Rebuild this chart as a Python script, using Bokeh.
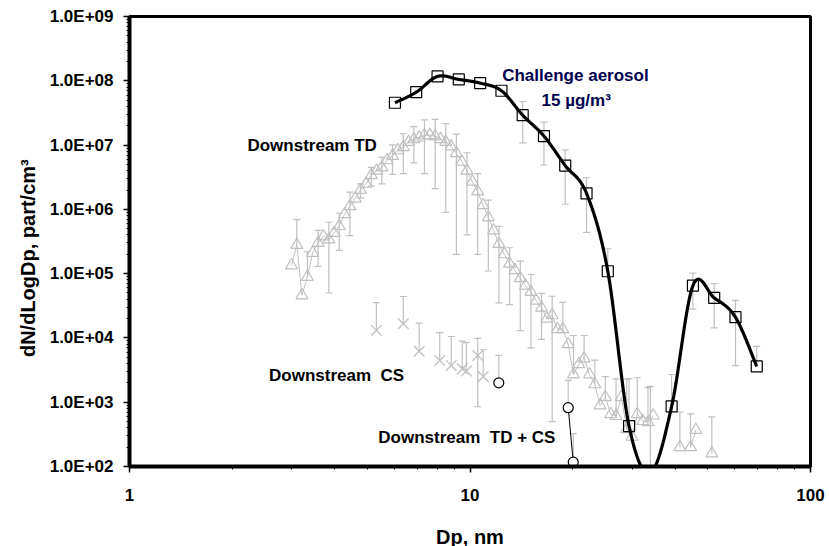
import math

from bokeh.core.properties import value
from bokeh.embed import file_html
from bokeh.models import ColumnDataSource, CustomJSTickFormatter, FixedTicker, TeeHead, Whisker
from bokeh.plotting import figure
from bokeh.resources import INLINE

nan = float("nan")

# Challenge aerosol (16 channels per decade), mean and standard deviation
challenge_dp = [6.02, 6.95, 8.03, 9.27, 10.71, 12.37, 14.28, 16.49, 19.04, 21.99,
                25.39, 29.32, 33.86, 39.10, 45.15, 52.14, 60.21, 69.53]
challenge_dn = [4.55e7, 6.65e7, 1.17e8, 1.05e8, 9.2e7, 7.0e7, 2.92e7, 1.38e7, 4.8e6, 1.77e6,
                1.09e5, 425, 80, 860, 6.5e4, 4.2e4, 2.1e4, 3.6e3]
challenge_sd = [0, 0, 0, 0, 0, 0, 1.84e7, 8.9e6, 3.6e6, 1.33e6,
                1.35e5, 1.9e3, 1.68e3, 1.84e3, 3.7e4, 2.77e4, 1.73e4, 3.8e3]

# Downstream of the thermodenuder (64 channels per decade)
td_dp = [2.99, 3.10, 3.21, 3.33, 3.45, 3.58, 3.71, 3.85, 3.99, 4.13,
         4.28, 4.44, 4.60, 4.77, 4.95, 5.13, 5.32, 5.51, 5.71, 5.92,
         6.14, 6.37, 6.60, 6.84, 7.09, 7.35, 7.62, 7.90, 8.19, 8.49,
         8.80, 9.12, 9.46, 9.80, 10.16, 10.53, 10.92, 11.32, 11.73, 12.16,
         12.61, 13.07, 13.55, 14.05, 14.56, 15.10, 15.65, 16.22, 16.82, 17.43,
         18.07, 18.73, 19.42, 20.13, 20.87, 21.63, 22.43, 23.25, 24.10, 24.98,
         25.90, 26.85, 27.83, 28.85, 29.91, 31.00, 32.14, 33.32, 34.54, 35.80,
         37.11, 38.47, 39.88, 41.35, 42.86, 44.43, 46.06, 47.75, 49.50, 51.31]
td_dn = [1.34e5, 2.8e5, 4.6e4, 8.9e4, 2.1e5, 3.0e5, 3.8e5, 3.4e5, 4.3e5, 5.5e5,
         8.4e5, 1.12e6, 1.47e6, 2.0e6, 2.5e6, 3.4e6, 4.0e6, 4.5e6, 5.8e6, 6.8e6,
         8.3e6, 9.3e6, 1.12e7, 1.23e7, 1.31e7, 1.41e7, 1.43e7, 1.36e7, 1.24e7, 1.12e7,
         9.5e6, 7.5e6, 5.5e6, 4.0e6, 2.7e6, 1.9e6, 1.16e6, 7.5e5, 4.7e5, 2.9e5,
         2.0e5, 1.43e5, 1.13e5, 8.5e4, 6.5e4, 5.2e4, 3.8e4, 2.95e4, 2.0e4, 2.25e4,
         1.37e4, 1.37e4, 8.0e3, 2.7e3, 3.9e3, 4.8e3, 2.7e3, 1.9e3, 890, 1.2e3,
         650, 610, 1.2e3, 380, 290, 650, 510, 490, 620, nan,
         nan, nan, nan, 200, nan, 200, 370, nan, nan, 160]
td_sd = [0, 4.1e5, 0, 1.3e5, 0, 1.7e5, 0, 2.9e5, 0, 3.2e5,
         0, 7.3e5, 0, 5.0e5, 0, 1.1e6, 0, 2.0e6, 0, 3.3e6,
         0, 5.7e6, 0, 7.0e6, 0, 1.05e7, 0, 1.15e7, 0, 1.03e7,
         0, 7.3e6, 0, 3.6e6, 0, 1.7e6, 0, 6.4e5, 0, 2.55e5,
         0, 1.1e5, 0, 7.2e4, 0, 4.5e4, 0, 2.0e4, 0, 2.2e4,
         0, 2.2e4, 0, 8.2e3, 0, 6.1e3, 0, 2.6e3, 0, 1.3e3,
         0, 1.7e3, 0, 1.9e3, 0, 1.75e3, 0, 1.2e3, 0, 0,
         0, 0, 0, 500, 0, 460, 0, 0, 0, 430]

# Downstream of the catalytic stripper
cs_dp = [5.31, 6.37, 7.09, 8.15, 8.81, 9.49, 9.76, 10.54, 10.93]
cs_dn = [1.31e4, 1.66e4, 6.2e3, 4.47e3, 3.73e3, 3.3e3, 3.05e3, 5.35e3, 2.5e3]
cs_sd = [2.24e4, 2.75e4, 1.08e4, 7.6e3, 6.8e3, 5.6e3, 5.4e3, 4.5e3, 4.05e3]

# Downstream of thermodenuder followed by catalytic stripper
tdcs_dp = [12.15, 19.43, 20.10]
tdcs_dn = [2.0e3, 822, 117]
tdcs_sd = [3.35e3, 1.36e3, 207]

x_ticks = [1, 10, 100]
y_ticks = [1e2, 1e3, 1e4, 1e5, 1e6, 1e7, 1e8, 1e9]

GREY = "#c0c0c0"
FONT = "Liberation Sans"


def smooth_curve(xs, ys, steps=30):
    """Bezier smoothing through every point, done in log-log space."""
    lx = [math.log10(v) for v in xs]
    ly = [math.log10(v) for v in ys]
    n = len(lx)
    out_x, out_y = [], []
    for i in range(n - 1):
        a, b = max(i - 1, 0), min(i + 2, n - 1)
        p1 = (lx[i], ly[i])
        p2 = (lx[i + 1], ly[i + 1])
        c1 = (p1[0] + (p2[0] - lx[a]) / 6, p1[1] + (p2[1] - ly[a]) / 6)
        c2 = (p2[0] - (lx[b] - p1[0]) / 6, p2[1] - (ly[b] - p1[1]) / 6)
        last = steps + 1 if i == n - 2 else steps
        for k in range(last):
            t = k / steps
            u = 1 - t
            bx = u**3 * p1[0] + 3 * u * u * t * c1[0] + 3 * u * t * t * c2[0] + t**3 * p2[0]
            by = u**3 * p1[1] + 3 * u * u * t * c1[1] + 3 * u * t * t * c2[1] + t**3 * p2[1]
            out_x.append(10 ** bx)
            out_y.append(10 ** by)
    return out_x, out_y


def add_error_bars(p, xs, ys, sds):
    up = dict(x=[], lo=[], hi=[])
    down = dict(x=[], lo=[], hi=[])
    for x, y, e in zip(xs, ys, sds):
        if not e or math.isnan(y):
            continue
        up["x"].append(x)
        up["lo"].append(y)
        up["hi"].append(y + e)
        if y - e > 0:
            down["x"].append(x)
            down["lo"].append(y - e)
            down["hi"].append(y)
    w_up = Whisker(source=ColumnDataSource(up), base="x", lower="lo", upper="hi",
                   dimension="height", line_color=GREY, line_width=1.2,
                   upper_head=TeeHead(size=7, line_color=GREY, line_width=1.2),
                   lower_head=None, level="underlay")
    w_dn = Whisker(source=ColumnDataSource(down), base="x", lower="lo", upper="hi",
                   dimension="height", line_color=GREY, line_width=1.2,
                   lower_head=TeeHead(size=7, line_color=GREY, line_width=1.2),
                   upper_head=None, level="underlay")
    p.add_layout(w_up)
    p.add_layout(w_dn)


p = figure(
    frame_width=681, frame_height=450,
    min_border_left=129, min_border_right=19, min_border_top=16, min_border_bottom=80,
    x_axis_type="log", y_axis_type="log",
    x_range=(1, 100), y_range=(1e2, 1e9),
    output_backend="svg", toolbar_location=None,
    background_fill_color="white", border_fill_color="white",
)
p.xgrid.grid_line_color = None
p.ygrid.grid_line_color = None
p.outline_line_color = "black"
p.outline_line_width = 3

x_minor = [m * d for d in (1, 10) for m in range(2, 10)]
y_minor = [m * d for d in y_ticks[:-1] for m in range(2, 10)]
p.xaxis.ticker = FixedTicker(ticks=x_ticks, minor_ticks=x_minor)
p.yaxis.ticker = FixedTicker(ticks=y_ticks, minor_ticks=y_minor)
p.xaxis.formatter = CustomJSTickFormatter(code="return String(Math.round(tick));")
p.yaxis.formatter = CustomJSTickFormatter(code="""
    const e = Math.round(Math.log10(tick));
    return "1.0E+" + (e < 10 ? "0" : "") + e;
""")

for ax in (p.xaxis, p.yaxis):
    ax.axis_line_width = 4
    ax.axis_line_color = "black"
    ax.major_tick_in = 0
    ax.major_tick_out = 6
    ax.major_tick_line_width = 1.5
    ax.minor_tick_in = 0
    ax.minor_tick_out = 3
    ax.minor_tick_line_width = 1
    ax.major_label_text_font = FONT
    ax.major_label_text_font_style = "bold"
    ax.major_label_text_font_size = "17px"
    ax.major_label_text_color = "black"
    ax.axis_label_text_font = FONT
    ax.axis_label_text_font_style = "bold"
    ax.axis_label_text_font_size = "20px"
    ax.axis_label_text_color = "black"

p.xaxis.major_label_standoff = 16
p.xaxis.axis_label_standoff = 22
p.yaxis.major_label_standoff = 10
p.yaxis.axis_label_standoff = 8
p.xaxis.axis_label = "Dp, nm"
p.yaxis.axis_label = "dN/dLogDp, part/cm³" + "\u00a0" * 6

# Error bars
add_error_bars(p, td_dp, td_dn, td_sd)
add_error_bars(p, cs_dp, cs_dn, cs_sd)
add_error_bars(p, tdcs_dp, tdcs_dn, tdcs_sd)
add_error_bars(p, challenge_dp, challenge_dn, challenge_sd)

# Downstream TD: grey triangles joined by a thin line
p.line(td_dp, td_dn, line_color=GREY, line_width=1)
p.scatter(td_dp, td_dn, marker="triangle", size=12, fill_color=None,
          line_color=GREY, line_width=1.2)

# Downstream CS: grey crosses
p.scatter(cs_dp, cs_dn, marker="x", size=15, line_color=GREY, line_width=1.3)

# Downstream TD + CS: open circles
p.line(tdcs_dp[1:], tdcs_dn[1:], line_color="black", line_width=1)
p.scatter(tdcs_dp, tdcs_dn, marker="circle", size=10, fill_color="white",
          line_color="black", line_width=1.2)

# Challenge aerosol: smoothed thick black line with open squares
sx, sy = smooth_curve(challenge_dp, challenge_dn)
p.line(sx, sy, line_color="black", line_width=3.2)
p.scatter(challenge_dp, challenge_dn, marker="square", size=11, fill_color=None,
          line_color="black", line_width=1.2)

# Series labels
lbl = dict(text_font=value(FONT), text_font_style="bold", text_font_size="17px",
           text_baseline="middle")
p.text(x=[20.4], y=[1.21e8], text=["Challenge aerosol"], text_align="center",
       text_color="#000050", **lbl)
p.text(x=[20.5], y=[4.9e7], text=["15 µg/m³"], text_align="center",
       text_color="#000050", **lbl)
p.text(x=[2.22], y=[9.9e6], text=["Downstream TD"], text_align="left",
       text_color="black", **lbl)
p.text(x=[2.57], y=[2.6e3], text=["Downstream\u00a0\u00a0CS"], text_align="left",
       text_color="black", **lbl)
p.text(x=[5.38], y=[2.86e2], text=["Downstream\u00a0\u00a0TD + CS"], text_align="left",
       text_color="black", **lbl)

open("out.html", "w").write(file_html(p, INLINE))
